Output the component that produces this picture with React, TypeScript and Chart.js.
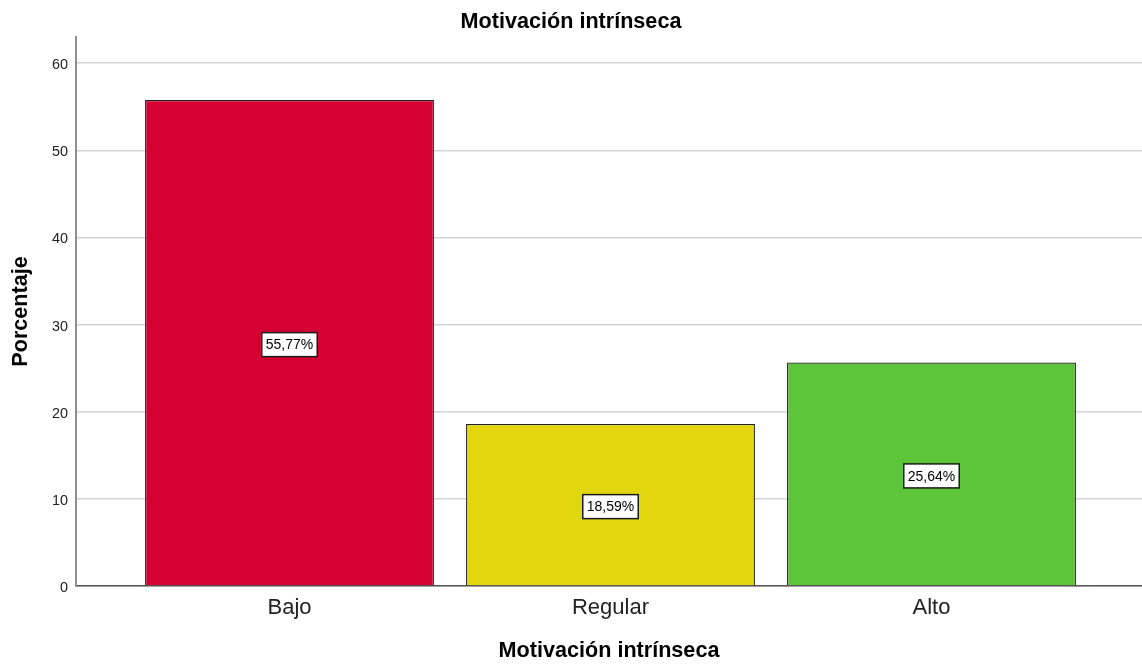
import React, { useEffect, useRef } from "react";
import { Chart, registerables } from "chart.js";

Chart.register(...registerables);

// Category labels along the x axis
const categories = ["Bajo", "Regular", "Alto"];
// Percentage of respondents in each category
const percentages = [55.77, 18.59, 25.64];
// Fill colour per bar
const barColors = ["#D50032", "#E2D70F", "#5EC43A"];
// Y axis tick values
const yTicks = [0, 10, 20, 30, 40, 50, 60];

const FONT = "'Liberation Sans', Arial, Helvetica, sans-serif";

const formatPct = (v: number) => v.toFixed(2).replace(".", ",") + "%";

// Draws a boxed value label in the middle of each bar
const valueBoxes = {
  id: "valueBoxes",
  afterDatasetsDraw(chart: any) {
    const { ctx } = chart;
    const meta = chart.getDatasetMeta(0);
    ctx.save();
    ctx.font = `14px ${FONT}`;
    ctx.textAlign = "center";
    ctx.textBaseline = "middle";
    meta.data.forEach((bar: any, i: number) => {
      const text = formatPct(percentages[i]);
      const cx = bar.x;
      const cy = (bar.y + bar.base) / 2 + 2;
      const w = ctx.measureText(text).width + 8;
      const h = 24;
      ctx.fillStyle = "#ffffff";
      ctx.fillRect(cx - w / 2, cy - h / 2, w, h);
      ctx.strokeStyle = "#1a1a1a";
      ctx.lineWidth = 1.5;
      ctx.strokeRect(cx - w / 2, cy - h / 2, w, h);
      ctx.fillStyle = "#000000";
      ctx.fillText(text, cx, cy + 1);
    });
    ctx.restore();
  },
};

export default function App() {
  const canvasRef = useRef<HTMLCanvasElement | null>(null);

  useEffect(() => {
    document.body.style.margin = "0";
    const canvas = canvasRef.current;
    if (!canvas) return;

    const chart = new Chart(canvas, {
      type: "bar",
      data: {
        datasets: [
          {
            data: categories.map((_, i) => ({ x: i + 1, y: percentages[i] })),
            backgroundColor: barColors,
            borderColor: "#222222",
            borderWidth: 1.3,
            categoryPercentage: 1,
            barPercentage: 0.9,
          },
        ],
      },
      options: {
        responsive: false,
        animation: false,
        layout: { padding: 0 },
        plugins: {
          legend: { display: false },
          tooltip: { enabled: false },
          title: {
            display: true,
            text: "Motivación intrínseca",
            color: "#000000",
            font: { family: FONT, size: 21.6, weight: "bold" },
            padding: { top: 9.5, bottom: 1.6 },
          },
        },
        scales: {
          x: {
            type: "linear",
            offset: false,
            min: 0.3349,
            max: 3.6558,
            afterBuildTicks: (scale: any) => {
              scale.ticks = categories.map((_, i) => ({ value: i + 1 }));
            },
            afterFit: (scale: any) => {
              scale.height = 80;
            },
            ticks: {
              callback: (_v: any, index: number) => categories[index],
              color: "#222222",
              font: { family: FONT, size: 22 },
              padding: 9,
              autoSkip: false,
              maxRotation: 0,
            },
            grid: { display: false, drawTicks: false, offset: false },
            border: { display: true, color: "#555555", width: 1.5 },
            title: {
              display: true,
              text: "Motivación intrínseca",
              color: "#000000",
              font: { family: FONT, size: 21.6, weight: "bold" },
              padding: { top: 0, bottom: 2 },
            },
          },
          y: {
            min: 0,
            max: 63,
            afterBuildTicks: (scale: any) => {
              scale.ticks = yTicks.map((v) => ({ value: v }));
            },
            afterFit: (scale: any) => {
              scale.width = 76;
            },
            ticks: {
              color: "#222222",
              font: { family: FONT, size: 14.4 },
              padding: 8,
              labelOffset: 2,
            },
            grid: { color: "#d4d4d4", lineWidth: 1.5, drawTicks: false },
            border: { display: true, color: "#8f8f8f", width: 2 },
            title: {
              display: true,
              text: "Porcentaje",
              color: "#000000",
              font: { family: FONT, size: 21.6, weight: "bold" },
              padding: { top: 8, bottom: 0 },
            },
          },
        },
      },
      plugins: [valueBoxes],
    });

    return () => chart.destroy();
  }, []);

  return (
    <div style={{ width: 1142, height: 666, background: "#ffffff" }}>
      <canvas ref={canvasRef} width={1142} height={666} style={{ display: "block" }} />
    </div>
  );
}
